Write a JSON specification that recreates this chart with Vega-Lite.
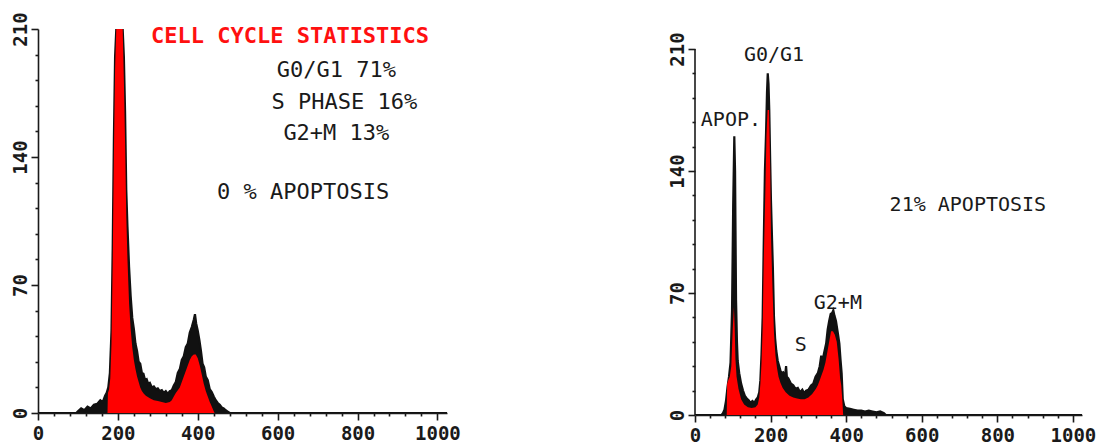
{
  "$schema": "https://vega.github.io/schema/vega-lite/v6.json",
  "padding": {"left": 11, "top": 11, "right": 5, "bottom": 3},
  "spacing": 206,
  "config": {
    "view": {"stroke": null},
    "font": "DejaVu Sans Mono",
    "axis": {
      "grid": false,
      "domainColor": "#1a1a1a",
      "domainWidth": 1.6,
      "tickColor": "#1a1a1a",
      "tickWidth": 1.6,
      "labelFont": "DejaVu Sans Mono",
      "labelFontWeight": "bold",
      "labelFontSize": 19,
      "labelColor": "#1a1a1a",
      "labelFlush": false,
      "labelOverlap": false,
      "labelBound": false,
      "title": null
    }
  },
  "datasets": {
    "obsL": [
      {"ch": 0, "count": 0}, {"ch": 96, "count": 0}, {"ch": 100, "count": 1}, {"ch": 108, "count": 2.5},
      {"ch": 116, "count": 1.5}, {"ch": 124, "count": 3.5}, {"ch": 132, "count": 2.5}, {"ch": 140, "count": 4.5},
      {"ch": 148, "count": 5}, {"ch": 156, "count": 7}, {"ch": 162, "count": 6}, {"ch": 168, "count": 9.5},
      {"ch": 172, "count": 11}, {"ch": 176, "count": 14}, {"ch": 180, "count": 22}, {"ch": 184, "count": 45},
      {"ch": 187, "count": 90}, {"ch": 190, "count": 150}, {"ch": 193, "count": 195}, {"ch": 196, "count": 210},
      {"ch": 212, "count": 210}, {"ch": 215, "count": 195}, {"ch": 218, "count": 165}, {"ch": 221, "count": 122},
      {"ch": 224, "count": 102}, {"ch": 228, "count": 80}, {"ch": 232, "count": 64}, {"ch": 236, "count": 52},
      {"ch": 240, "count": 46}, {"ch": 244, "count": 38}, {"ch": 248, "count": 34}, {"ch": 252, "count": 28},
      {"ch": 256, "count": 27}, {"ch": 260, "count": 22}, {"ch": 264, "count": 21.5}, {"ch": 268, "count": 18},
      {"ch": 272, "count": 18.5}, {"ch": 276, "count": 16}, {"ch": 280, "count": 16.5}, {"ch": 285, "count": 14},
      {"ch": 290, "count": 14.5}, {"ch": 295, "count": 13}, {"ch": 300, "count": 13.5}, {"ch": 305, "count": 12},
      {"ch": 310, "count": 12.5}, {"ch": 315, "count": 11}, {"ch": 320, "count": 12}, {"ch": 325, "count": 10.5},
      {"ch": 330, "count": 12}, {"ch": 335, "count": 12.5}, {"ch": 340, "count": 15}, {"ch": 345, "count": 17},
      {"ch": 350, "count": 22}, {"ch": 355, "count": 24}, {"ch": 360, "count": 29}, {"ch": 365, "count": 31},
      {"ch": 370, "count": 36}, {"ch": 375, "count": 38}, {"ch": 380, "count": 44}, {"ch": 385, "count": 47},
      {"ch": 390, "count": 51}, {"ch": 393, "count": 54}, {"ch": 396, "count": 49}, {"ch": 400, "count": 45},
      {"ch": 404, "count": 40}, {"ch": 408, "count": 34}, {"ch": 412, "count": 27}, {"ch": 416, "count": 25},
      {"ch": 420, "count": 20}, {"ch": 425, "count": 18}, {"ch": 430, "count": 13}, {"ch": 435, "count": 11.5},
      {"ch": 440, "count": 9}, {"ch": 445, "count": 7}, {"ch": 450, "count": 5.5}, {"ch": 455, "count": 4.5},
      {"ch": 460, "count": 3}, {"ch": 465, "count": 2.5}, {"ch": 470, "count": 1.5}, {"ch": 475, "count": 0.8},
      {"ch": 480, "count": 0}, {"ch": 1024, "count": 0}
    ],
    "fitL": [
      {"ch": 0, "count": 0}, {"ch": 174, "count": 0}, {"ch": 175, "count": 11}, {"ch": 178, "count": 13},
      {"ch": 181, "count": 19}, {"ch": 184, "count": 38}, {"ch": 187, "count": 82}, {"ch": 190, "count": 142},
      {"ch": 193, "count": 188}, {"ch": 196, "count": 210}, {"ch": 212, "count": 210}, {"ch": 215, "count": 182},
      {"ch": 218, "count": 148}, {"ch": 221, "count": 108}, {"ch": 224, "count": 84}, {"ch": 228, "count": 60},
      {"ch": 232, "count": 46}, {"ch": 236, "count": 36}, {"ch": 240, "count": 29}, {"ch": 244, "count": 24},
      {"ch": 248, "count": 20}, {"ch": 252, "count": 17}, {"ch": 256, "count": 14}, {"ch": 260, "count": 12},
      {"ch": 265, "count": 10.5}, {"ch": 270, "count": 9.5}, {"ch": 280, "count": 8}, {"ch": 290, "count": 7},
      {"ch": 300, "count": 6.5}, {"ch": 310, "count": 6}, {"ch": 320, "count": 5.5}, {"ch": 330, "count": 6},
      {"ch": 335, "count": 7}, {"ch": 340, "count": 9}, {"ch": 345, "count": 11}, {"ch": 350, "count": 12.5},
      {"ch": 355, "count": 14}, {"ch": 360, "count": 17}, {"ch": 365, "count": 20}, {"ch": 370, "count": 23},
      {"ch": 375, "count": 26}, {"ch": 380, "count": 29}, {"ch": 385, "count": 31}, {"ch": 390, "count": 32},
      {"ch": 395, "count": 32}, {"ch": 400, "count": 30}, {"ch": 405, "count": 26}, {"ch": 410, "count": 21},
      {"ch": 415, "count": 16}, {"ch": 420, "count": 12}, {"ch": 425, "count": 9}, {"ch": 430, "count": 6},
      {"ch": 435, "count": 3.5}, {"ch": 440, "count": 1}, {"ch": 442, "count": 0}, {"ch": 1024, "count": 0}
    ],
    "obsR": [
      {"ch": 0, "count": 0}, {"ch": 70, "count": 0}, {"ch": 74, "count": 1}, {"ch": 78, "count": 3},
      {"ch": 82, "count": 8}, {"ch": 86, "count": 16}, {"ch": 90, "count": 22}, {"ch": 94, "count": 30},
      {"ch": 98, "count": 60}, {"ch": 101, "count": 120}, {"ch": 104, "count": 160}, {"ch": 106, "count": 140},
      {"ch": 108.6, "count": 66}, {"ch": 111, "count": 42}, {"ch": 113, "count": 31}, {"ch": 117, "count": 24},
      {"ch": 122, "count": 18}, {"ch": 127, "count": 14}, {"ch": 132, "count": 11}, {"ch": 137, "count": 9.5},
      {"ch": 142, "count": 8.5}, {"ch": 147, "count": 7}, {"ch": 152, "count": 8}, {"ch": 157, "count": 7},
      {"ch": 162, "count": 9}, {"ch": 166, "count": 10}, {"ch": 170, "count": 13}, {"ch": 173, "count": 20},
      {"ch": 176, "count": 35}, {"ch": 179, "count": 56}, {"ch": 182, "count": 100}, {"ch": 185, "count": 140},
      {"ch": 188, "count": 162}, {"ch": 190.5, "count": 185}, {"ch": 192.5, "count": 196}, {"ch": 194.5, "count": 190},
      {"ch": 196.5, "count": 175}, {"ch": 199, "count": 145}, {"ch": 201, "count": 123}, {"ch": 204, "count": 100},
      {"ch": 206, "count": 85}, {"ch": 209, "count": 56}, {"ch": 212, "count": 44}, {"ch": 215, "count": 37},
      {"ch": 219, "count": 31}, {"ch": 223, "count": 28}, {"ch": 228, "count": 24}, {"ch": 233, "count": 24.5},
      {"ch": 238, "count": 22}, {"ch": 241, "count": 28}, {"ch": 243, "count": 22}, {"ch": 247, "count": 21},
      {"ch": 254, "count": 18}, {"ch": 260, "count": 17}, {"ch": 266, "count": 15}, {"ch": 272, "count": 15.5},
      {"ch": 278, "count": 13}, {"ch": 284, "count": 14.5}, {"ch": 289, "count": 12.5}, {"ch": 294, "count": 14},
      {"ch": 300, "count": 14.5}, {"ch": 307, "count": 17}, {"ch": 313, "count": 18}, {"ch": 319, "count": 22},
      {"ch": 325, "count": 24}, {"ch": 330, "count": 28}, {"ch": 334, "count": 34}, {"ch": 337, "count": 30},
      {"ch": 341, "count": 35}, {"ch": 347, "count": 41}, {"ch": 351, "count": 49}, {"ch": 355, "count": 54},
      {"ch": 359, "count": 58}, {"ch": 363, "count": 58.5}, {"ch": 366, "count": 60}, {"ch": 369, "count": 57},
      {"ch": 373, "count": 54}, {"ch": 378, "count": 47}, {"ch": 382, "count": 41}, {"ch": 385, "count": 32},
      {"ch": 388, "count": 24}, {"ch": 391, "count": 9}, {"ch": 395, "count": 5}, {"ch": 400, "count": 4},
      {"ch": 410, "count": 3.5}, {"ch": 420, "count": 3}, {"ch": 430, "count": 2.5}, {"ch": 440, "count": 2.5},
      {"ch": 450, "count": 2}, {"ch": 460, "count": 2.5}, {"ch": 470, "count": 2}, {"ch": 480, "count": 1.5},
      {"ch": 490, "count": 2}, {"ch": 500, "count": 1}, {"ch": 505, "count": 0}, {"ch": 1024, "count": 0}
    ],
    "fitR": [
      {"ch": 0, "count": 0}, {"ch": 84, "count": 0}, {"ch": 85, "count": 18}, {"ch": 88, "count": 20},
      {"ch": 92, "count": 22}, {"ch": 96, "count": 28}, {"ch": 100, "count": 50}, {"ch": 103, "count": 62},
      {"ch": 105, "count": 50}, {"ch": 107, "count": 32}, {"ch": 110, "count": 22}, {"ch": 115, "count": 15},
      {"ch": 122, "count": 9}, {"ch": 130, "count": 6}, {"ch": 140, "count": 4.5}, {"ch": 150, "count": 4},
      {"ch": 160, "count": 4.5}, {"ch": 166, "count": 6}, {"ch": 170, "count": 10}, {"ch": 173, "count": 18},
      {"ch": 176, "count": 30}, {"ch": 179, "count": 50}, {"ch": 182, "count": 90}, {"ch": 186, "count": 127},
      {"ch": 189, "count": 160}, {"ch": 192, "count": 175}, {"ch": 196, "count": 175}, {"ch": 199, "count": 140},
      {"ch": 201, "count": 104}, {"ch": 204, "count": 80}, {"ch": 207, "count": 60}, {"ch": 209, "count": 47},
      {"ch": 213, "count": 34}, {"ch": 217, "count": 27}, {"ch": 221, "count": 22}, {"ch": 226, "count": 18.5},
      {"ch": 232, "count": 15.5}, {"ch": 240, "count": 13}, {"ch": 250, "count": 11}, {"ch": 260, "count": 10},
      {"ch": 270, "count": 9.5}, {"ch": 280, "count": 9}, {"ch": 290, "count": 9}, {"ch": 300, "count": 10},
      {"ch": 310, "count": 12}, {"ch": 320, "count": 15}, {"ch": 325, "count": 17}, {"ch": 330, "count": 20},
      {"ch": 340, "count": 26}, {"ch": 345, "count": 30}, {"ch": 350, "count": 36}, {"ch": 355, "count": 42},
      {"ch": 360, "count": 48}, {"ch": 365, "count": 48}, {"ch": 370, "count": 46}, {"ch": 375, "count": 42},
      {"ch": 380, "count": 32}, {"ch": 384, "count": 21}, {"ch": 387, "count": 17}, {"ch": 390, "count": 8},
      {"ch": 392, "count": 0}, {"ch": 1024, "count": 0}
    ],
    "axisLineR": [{"ch": 0, "count": 0, "top": 210}],
    "statsTitle": [{"ch": 631, "count": 206, "text": "CELL CYCLE STATISTICS"}],
    "statsL": [
      {"ch": 747, "count": 187.6, "text": "G0/G1 71%"},
      {"ch": 767, "count": 170, "text": "S PHASE 16%"},
      {"ch": 747, "count": 153, "text": "G2+M 13%"},
      {"ch": 664, "count": 121, "text": "0 % APOPTOSIS"}
    ],
    "labelsR": [
      {"ch": 209, "count": 206.5, "text": "G0/G1"},
      {"ch": 95, "count": 169, "text": "APOP."},
      {"ch": 722, "count": 120.5, "text": "21% APOPTOSIS"},
      {"ch": 378, "count": 64, "text": "G2+M"},
      {"ch": 280, "count": 40, "text": "S"}
    ]
  },
  "hconcat": [
    {
      "width": 409,
      "height": 384,
      "encoding": {
        "x": {
          "field": "ch", "type": "quantitative",
          "scale": {"domain": [0, 1024], "nice": false, "zero": false},
          "axis": {
            "values": [0, 40, 80, 120, 160, 200, 240, 280, 320, 360, 400, 440, 480, 520, 560, 600, 640, 680, 720, 760, 800, 840, 880, 920, 960, 1000],
            "labelExpr": "datum.value % 200 === 0 ? datum.label : ''",
            "format": "d",
            "tickSize": {"condition": {"test": "datum.value % 200 === 0", "value": 7}, "value": 3},
            "labelPadding": 4
          }
        },
        "y": {
          "field": "count", "type": "quantitative",
          "scale": {"domain": [0, 210], "nice": false},
          "axis": {
            "values": [0, 14, 28, 42, 56, 70, 84, 98, 112, 126, 140, 154, 168, 182, 196, 210],
            "labelExpr": "datum.value % 70 === 0 ? datum.label : ''",
            "format": "d",
            "tickSize": {"condition": {"test": "datum.value % 70 === 0", "value": 7}, "value": 3},
            "labelAngle": 270,
            "labelAlign": "center",
            "labelBaseline": "bottom",
            "labelPadding": 1
          }
        }
      },
      "layer": [
        {"data": {"name": "obsL"}, "mark": {"type": "area", "color": "#111111", "stroke": "#111111", "strokeWidth": 2.2, "clip": true}},
        {"data": {"name": "fitL"}, "mark": {"type": "area", "color": "#ff0000", "clip": true}},
        {"data": {"name": "statsTitle"}, "mark": {"type": "text", "color": "#ff1010", "fontSize": 22, "fontWeight": "bold", "font": "DejaVu Sans Mono", "align": "center", "baseline": "middle"}, "encoding": {"text": {"field": "text"}}},
        {"data": {"name": "statsL"}, "mark": {"type": "text", "color": "#1a1a1a", "fontSize": 22, "font": "DejaVu Sans Mono", "align": "center", "baseline": "middle"}, "encoding": {"text": {"field": "text"}}}
      ]
    },
    {
      "width": 387,
      "height": 386,
      "encoding": {
        "x": {
          "field": "ch", "type": "quantitative",
          "scale": {"domain": [0, 1024], "nice": false, "zero": false},
          "axis": {
            "values": [0, 40, 80, 120, 160, 200, 240, 280, 320, 360, 400, 440, 480, 520, 560, 600, 640, 680, 720, 760, 800, 840, 880, 920, 960, 1000],
            "labelExpr": "datum.value % 200 === 0 ? datum.label : ''",
            "format": "d",
            "tickSize": {"condition": {"test": "datum.value % 200 === 0", "value": 7}, "value": 3},
            "labelPadding": 4
          }
        },
        "y": {
          "field": "count", "type": "quantitative",
          "scale": {"domain": [0, 221.48], "nice": false},
          "axis": {
            "domain": false,
            "values": [0, 14, 28, 42, 56, 70, 84, 98, 112, 126, 140, 154, 168, 182, 196, 210],
            "labelExpr": "datum.value % 70 === 0 ? datum.label : ''",
            "format": "d",
            "tickSize": {"condition": {"test": "datum.value % 70 === 0", "value": 7}, "value": 3},
            "labelAngle": 270,
            "labelAlign": "center",
            "labelBaseline": "bottom",
            "labelPadding": 1
          }
        }
      },
      "layer": [
        {"data": {"name": "axisLineR"}, "mark": {"type": "rule", "color": "#1a1a1a", "strokeWidth": 1.6}, "encoding": {"y2": {"field": "top"}}},
        {"data": {"name": "obsR"}, "mark": {"type": "area", "color": "#111111", "stroke": "#111111", "strokeWidth": 2.2, "clip": true}},
        {"data": {"name": "fitR"}, "mark": {"type": "area", "color": "#ff0000", "clip": true}},
        {"data": {"name": "labelsR"}, "mark": {"type": "text", "color": "#1a1a1a", "fontSize": 20, "font": "DejaVu Sans Mono", "align": "center", "baseline": "middle"}, "encoding": {"text": {"field": "text"}}}
      ]
    }
  ]
}
